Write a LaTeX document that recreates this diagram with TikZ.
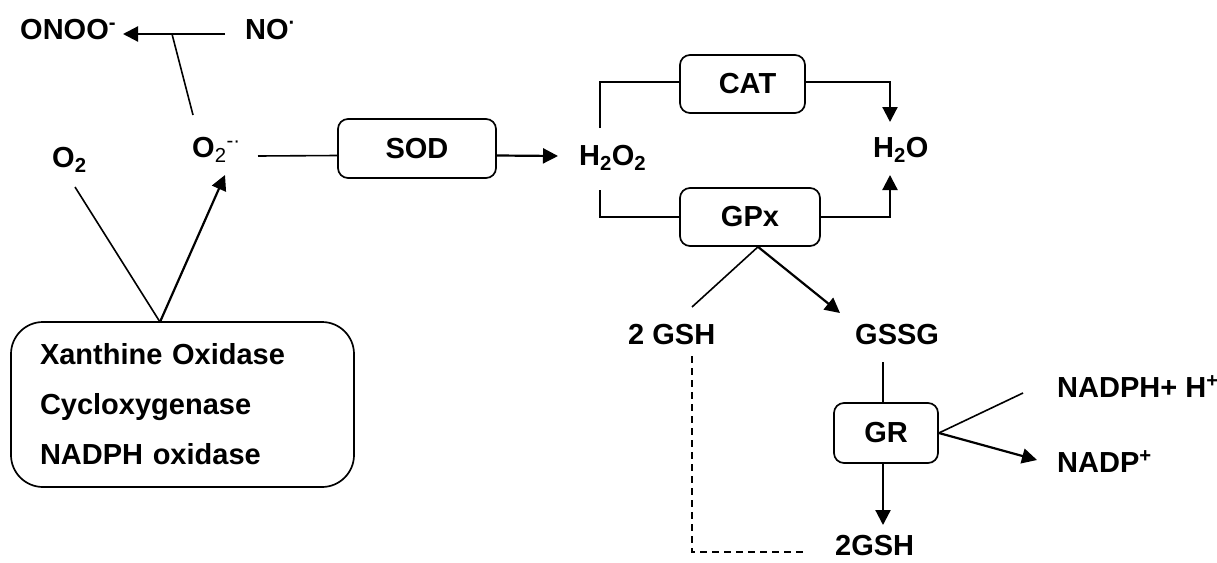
\documentclass[tikz,border=0pt]{standalone}
\usepackage{fontspec}
\setmainfont{Liberation Sans}
\usetikzlibrary{arrows.meta}
\begin{document}
\begin{tikzpicture}[x=1pt,y=-1pt,
  lbl/.style={font=\fontsize{29}{35}\selectfont\bfseries, inner sep=0pt, anchor=base west},
  box/.style={draw, line width=1.7pt, rounded corners=10pt, inner sep=0pt,
    font=\fontsize{29}{35}\selectfont\bfseries},
  ln/.style={line width=1.6pt},
  arr/.style={line width=2.2pt, -{Triangle[length=15pt,width=15pt]}},
  dsh/.style={line width=1.6pt, dash pattern=on 7pt off 5pt},
]
\useasboundingbox (0,0) rectangle (1217,562);

% labels
\node[lbl] (onoo) at (20,39) {ONOO\textsuperscript{-}};
\node[lbl] (no) at (245,39) {NO\textsuperscript{·}};
\node[lbl] (o2) at (52,167) {O\textsubscript{2}};
\node[lbl] (o2m) at (192,157) {O\textsubscript{\mdseries 2}\textsuperscript{\mdseries -·}};
\node[lbl] (h2o2) at (579,165) {H\textsubscript{2}O\textsubscript{2}};
\node[lbl] (h2o) at (873,157) {H\textsubscript{2}O};
\node[lbl] (gsh) at (628,344) {2 GSH};
\node[lbl] (gssg) at (855,344) {GSSG};
\node[lbl] (nadph) at (1057,397) {NADPH+ H\textsuperscript{+}};
\node[lbl] (nadp) at (1057,472) {NADP\textsuperscript{+}};
\node[lbl] (gsh2) at (835,555) {2GSH};

% boxes
\node[box, minimum width=158pt, minimum height=59pt] (sod) at (417,148.5) {SOD};
\node[box, minimum width=125pt, minimum height=58pt] (cat) at (742.5,84) {\hspace*{10pt}CAT};
\node[box, minimum width=140pt, minimum height=58pt] (gpx) at (750,217) {GPx};
\node[box, minimum width=104pt, minimum height=60pt] (gr) at (886,433) {GR};
\node[box, rounded corners=32pt, minimum width=343pt, minimum height=165pt,
  text width=285pt, align=left, font=\fontsize{29}{50}\selectfont\bfseries]
  (src) at (182.5,404.5) {Xanthine Oxidase\\Cycloxygenase\\NADPH oxidase};

% free ends
\coordinate (noS) at (225,34);
\coordinate (onoT) at (123,34);
\coordinate (jn) at (172,34);
\coordinate (o2mT) at (193,115);
\coordinate (o2B) at (75,187);
\coordinate (apex) at (160,322);
\coordinate (o2mB) at (225,175);
\coordinate (o2mR) at (258,156);
\coordinate (h2o2L) at (558,156);
\coordinate (h2o2U) at (600,128);
\coordinate (h2o2D) at (600,190);
\coordinate (h2oU) at (890,122);
\coordinate (h2oD) at (890,175);
\coordinate (gshT) at (692,307);
\coordinate (gssgT) at (840,313);
\coordinate (gssgB) at (883,362);
\coordinate (nadphL) at (1023,393);
\coordinate (nadpL) at (1037,460);
\coordinate (gsh2T) at (883,525);
\coordinate (gshB) at (692,356);
\coordinate (gsh2L) at (805,552);

% connectors
\draw[arr] (noS) -- (onoT);
\draw[ln] (o2mT) -- (jn);
\draw[ln] (o2B) -- (apex);
\draw[arr] (apex) -- (o2mB);
\draw[ln] (o2mR) -- ([yshift=-7pt]sod.west);
\draw[arr] ([yshift=-7pt]sod.east) -- (h2o2L);
\draw[ln] (h2o2U) |- ([yshift=2pt]cat.west);
\draw[arr] ([yshift=2pt]cat.east) -| (h2oU);
\draw[ln] (h2o2D) |- (gpx.west);
\draw[arr] (gpx.east) -| (h2oD);
\draw[ln] ([xshift=8pt]gpx.south) -- (gshT);
\draw[arr] ([xshift=8pt]gpx.south) -- (gssgT);
\draw[ln] (gssgB) -- ([xshift=-3pt]gr.north);
\draw[ln] (gr.east) -- (nadphL);
\draw[arr] (gr.east) -- (nadpL);
\draw[arr] ([xshift=-3pt]gr.south) -- (gsh2T);
\draw[dsh] (gshB) |- (gsh2L);
\end{tikzpicture}
\end{document}
